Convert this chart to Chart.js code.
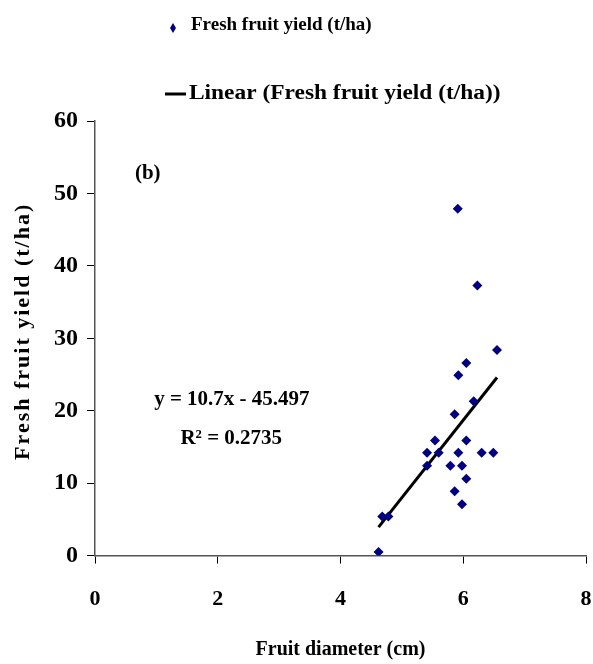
<!DOCTYPE html>
<html>
<head>
<meta charset="utf-8">
<script src="https://cdn.jsdelivr.net/npm/chart.js@4/dist/chart.umd.min.js"></script>
<style>
  body { margin: 0; background: #fff; }
  #wrap { width: 593px; height: 664px; position: relative; }
</style>
</head>
<body>
<div id="wrap"><canvas id="myChart"></canvas></div>
<script>
// values
const diameter = [5.91, 6.23, 6.55, 6.05, 5.92, 6.17, 5.86, 5.54, 6.05, 5.41, 5.60, 5.92,
                  6.30, 6.49, 5.41, 5.79, 5.98, 6.05, 5.86, 5.98, 4.68, 4.78, 4.62];
const yieldTha = [47.9, 37.3, 28.4, 26.6, 24.9, 21.3, 19.5, 15.9, 15.9, 14.2, 14.2, 14.2,
                  14.2, 14.2, 12.4, 12.4, 12.4, 10.6, 8.9, 7.1, 5.4, 5.4, 0.5];
const trendX   = [4.62, 6.55];
const trendY   = [3.94, 24.59];
const xTicks   = [0, 2, 4, 6, 8];
const yTicks   = [0, 10, 20, 30, 40, 50, 60];

const SERIF = '"Liberation Serif", "Times New Roman", serif';
const myChart = document.getElementById('myChart');

// legend, y title and the text inside the plot are drawn by hand
const extras = {
    id: 'extras',
    afterDraw(chart) {
        const ctx = chart.ctx;
        const area = chart.chartArea;
        const sx = chart.scales.x;
        const sy = chart.scales.y;
        const ds = chart.data.datasets;

        ctx.save();
        ctx.fillStyle = '#000';

        // y axis title, spaced letters
        ctx.save();
        ctx.font = 'bold 22px ' + SERIF;
        ctx.letterSpacing = '2px';
        ctx.translate(23, (area.top + area.bottom) / 2 - 7);
        ctx.rotate(-Math.PI / 2);
        ctx.textAlign = 'center';
        ctx.textBaseline = 'middle';
        ctx.fillText('Fresh fruit yield (t/ha)', 0, 0);
        ctx.restore();

        // legend
        ctx.textAlign = 'left';
        ctx.textBaseline = 'alphabetic';
        // row 1: diamond
        ctx.fillStyle = ds[0].backgroundColor;
        ctx.beginPath();
        ctx.moveTo(173, 23); ctx.lineTo(176, 28); ctx.lineTo(173, 33); ctx.lineTo(170, 28);
        ctx.closePath();
        ctx.fill();
        ctx.fillStyle = '#000';
        ctx.font = 'bold 19px ' + SERIF;
        ctx.fillText(ds[0].label, 191, 30);
        // row 2: line (its text is wider in the source)
        ctx.strokeStyle = ds[1].borderColor;
        ctx.lineWidth = 3;
        ctx.beginPath();
        ctx.moveTo(165, 94); ctx.lineTo(186, 94);
        ctx.stroke();
        ctx.save();
        ctx.font = 'bold 20px ' + SERIF;
        ctx.translate(189, 99);
        ctx.scale(1.17, 1);
        ctx.fillText(ds[1].label, 0, 0);
        ctx.restore();

        // text inside the plot
        ctx.font = 'bold 21px ' + SERIF;
        ctx.textAlign = 'center';
        ctx.textBaseline = 'middle';
        ctx.fillText('(b)', sx.getPixelForValue(0.86), sy.getPixelForValue(52.8));
        ctx.fillText('y = 10.7x - 45.497', sx.getPixelForValue(2.23), sy.getPixelForValue(21.6));
        ctx.fillText('R\u00B2 = 0.2735', sx.getPixelForValue(2.22), sy.getPixelForValue(16.1));

        ctx.restore();
    }
};

const scatterChart = new Chart(myChart, {
    type: 'scatter',
    data: {
        datasets: [{
            label: 'Fresh fruit yield (t/ha)',
            data: diameter.map((d, i) => ({x: d, y: yieldTha[i]})),
            pointStyle: 'rectRot',
            pointRadius: 5,
            backgroundColor: '#000080',
            borderColor: '#000080',
            borderWidth: 0,
            order: 1
        }, {
            label: 'Linear (Fresh fruit yield (t/ha))',
            data: trendX.map((d, i) => ({x: d, y: trendY[i]})),
            showLine: true,
            borderColor: '#000',
            borderWidth: 3,
            pointRadius: 0,
            order: 2
        }]
    },
    options: {
        responsive: true,
        maintainAspectRatio: false,
        animation: false,
        layout: {padding: {top: 121, right: 7, bottom: 2, left: 45}},
        plugins: {
            legend: {display: false},
            tooltip: {enabled: false}
        },
        scales: {
            x: {
                min: 0, max: 8,
                afterBuildTicks: s => { s.ticks = xTicks.map(v => ({value: v})); },
                afterFit: s => { s.paddingLeft = 6; s.paddingRight = 6; },
                border: {color: '#555', width: 1.5},
                grid: {drawOnChartArea: false, drawTicks: true, tickLength: 8, color: '#000'},
                ticks: {color: '#000', padding: 23, font: {family: SERIF, size: 22, weight: 'bold'}},
                title: {
                    display: true,
                    text: 'Fruit diameter (cm)',
                    color: '#000',
                    padding: {top: 2, bottom: 0},
                    font: {family: SERIF, size: 20, weight: 'bold'}
                }
            },
            y: {
                min: 0, max: 60,
                afterBuildTicks: s => { s.ticks = yTicks.map(v => ({value: v})); },
                border: {color: '#555', width: 1.5},
                grid: {drawOnChartArea: false, drawTicks: true, tickLength: 8, color: '#000'},
                ticks: {color: '#000', padding: 9, font: {family: SERIF, size: 24, weight: 'bold'}}
            }
        }
    },
    plugins: [extras]
});
</script>
</body>
</html>
